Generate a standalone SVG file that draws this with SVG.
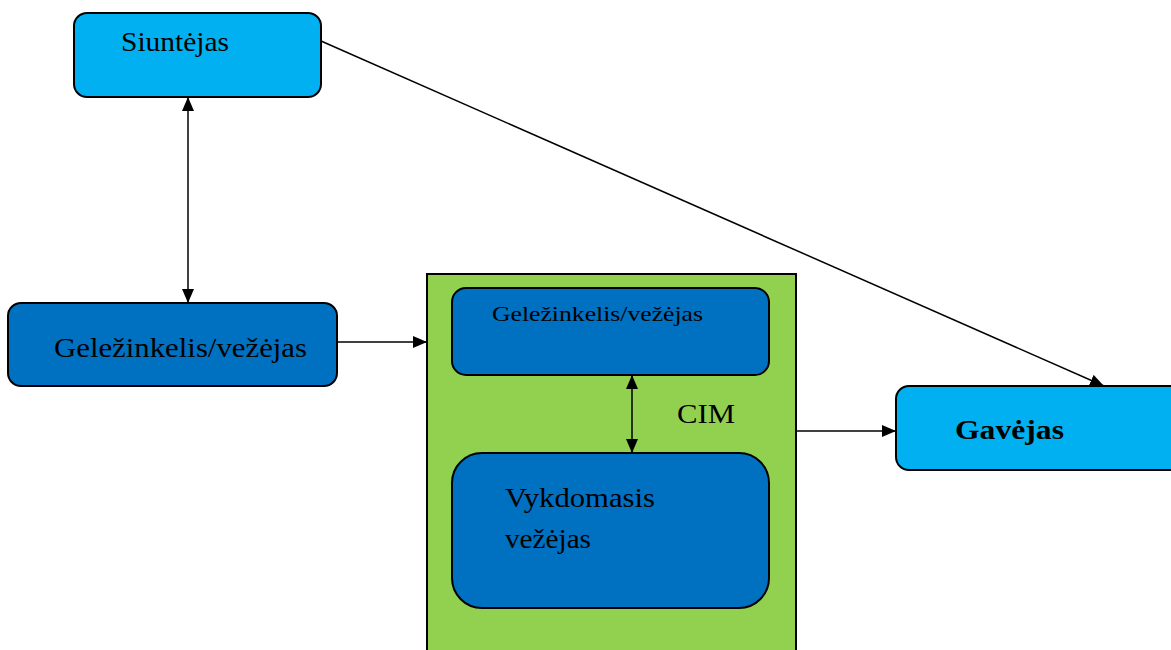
<svg xmlns="http://www.w3.org/2000/svg" width="1171" height="650" viewBox="0 0 1171 650">
<defs>
<marker id="ah" viewBox="0 0 14 12" refX="14" refY="6" markerWidth="14" markerHeight="12" markerUnits="userSpaceOnUse" orient="auto-start-reverse">
<path d="M0,0 L14,6 L0,12 Z" fill="#000"/>
</marker>
</defs>
<style>
.box{stroke:#000;stroke-width:2}
.light{fill:#00B0F0}
.dark{fill:#0070C0}
.t{font-family:"Liberation Serif","DejaVu Serif",serif;fill:#000}
.c{stroke:#000;stroke-width:1.5;fill:none}
</style>
<rect width="1171" height="650" fill="#fff"/>
<g id="cim">
<rect x="427" y="274" width="369" height="390" fill="#92D050" stroke="#000" stroke-width="2"/>
<text class="t" x="677" y="423" font-size="28" textLength="58" lengthAdjust="spacingAndGlyphs">CIM</text>
</g>
<g id="siuntejas">
<rect class="box light" x="74" y="13" width="247" height="84" rx="13"/>
<text class="t" x="121" y="51" font-size="28" textLength="108" lengthAdjust="spacingAndGlyphs">Siuntėjas</text>
</g>
<g id="gelezinkelis1">
<rect class="box dark" x="8" y="303" width="329" height="83" rx="13"/>
<text class="t" x="54" y="357" font-size="28" textLength="253" lengthAdjust="spacingAndGlyphs">Geležinkelis/vežėjas</text>
</g>
<g id="gelezinkelis2">
<rect class="box dark" x="452" y="288" width="317" height="87" rx="14"/>
<text class="t" x="492" y="321" font-size="21" textLength="211" lengthAdjust="spacingAndGlyphs">Geležinkelis/vežėjas</text>
</g>
<g id="vykdomasis">
<rect class="box dark" x="452" y="453" width="317" height="155" rx="30"/>
<text class="t" x="505" y="507" font-size="28" textLength="150" lengthAdjust="spacingAndGlyphs">Vykdomasis</text>
<text class="t" x="505" y="548" font-size="28" textLength="86" lengthAdjust="spacingAndGlyphs">vežėjas</text>
</g>
<g id="gavejas">
<rect class="box light" x="896" y="386" width="290" height="84" rx="13"/>
<text class="t" x="955" y="439" font-size="28" font-weight="bold" textLength="109" lengthAdjust="spacingAndGlyphs">Gavėjas</text>
</g>
<g id="connectors">
<line class="c" x1="188" y1="97" x2="188" y2="303" marker-start="url(#ah)" marker-end="url(#ah)"/>
<line class="c" x1="337" y1="342" x2="427" y2="342" marker-end="url(#ah)"/>
<line class="c" x1="632" y1="375" x2="632" y2="453" marker-start="url(#ah)" marker-end="url(#ah)"/>
<line class="c" x1="796" y1="431" x2="896" y2="431" marker-end="url(#ah)"/>
<line class="c" x1="321" y1="41" x2="1104" y2="386" marker-end="url(#ah)"/>
</g>
</svg>
